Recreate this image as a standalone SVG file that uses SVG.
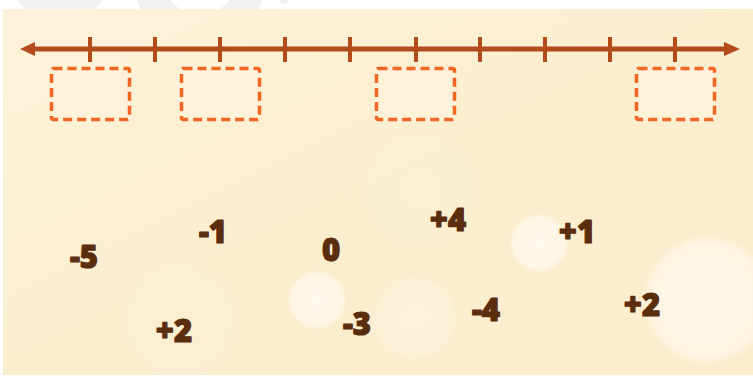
<svg xmlns="http://www.w3.org/2000/svg" width="753" height="378" viewBox="0 0 753 378">
<defs>
<linearGradient id="bg" x1="0" y1="0" x2="1" y2="1">
<stop offset="0" stop-color="#fdf2d9"/>
<stop offset="0.5" stop-color="#fbeecf"/>
<stop offset="1" stop-color="#fbedcd"/>
</linearGradient>
<radialGradient id="glow" cx="0.5" cy="0.5" r="0.5">
<stop offset="0" stop-color="#fffaf0" stop-opacity="0.9"/>
<stop offset="0.85" stop-color="#fff8ea" stop-opacity="0.8"/>
<stop offset="1" stop-color="#fff8ea" stop-opacity="0"/>
</radialGradient>
<clipPath id="top"><rect x="0" y="0" width="753" height="9"/></clipPath>
<style>
.num{font-family:"Open Sans","Liberation Sans",sans-serif;font-weight:800;font-size:31px;fill:#5a2d0d;stroke:#5a2d0d;stroke-width:1.2;stroke-linejoin:round;text-anchor:middle}
.box{fill:#fdf1d9;stroke:#f06623;stroke-width:3.5;stroke-dasharray:9 5}
.tick{stroke:#b34b1b;stroke-width:4}
</style>
</defs>
<rect width="753" height="378" fill="#ffffff"/>
<g clip-path="url(#top)" fill="#f0f0f0">
<circle cx="60" cy="-30" r="52"/>
<path d="M135 -10 A65 65 0 0 0 264 -10 L235 -10 A37 37 0 0 1 165 -10 Z"/>
<circle cx="284" cy="0" r="4"/>
</g>
<rect x="3" y="9" width="750" height="366" fill="url(#bg)"/>
<g id="bokeh">
<circle cx="317" cy="300" r="30" fill="url(#glow)"/>
<circle cx="539" cy="243" r="30" fill="url(#glow)"/>
<circle cx="707" cy="300" r="66" fill="url(#glow)" opacity="0.9"/>
<circle cx="415" cy="318" r="44" fill="url(#glow)" opacity="0.35"/>
<circle cx="420" cy="190" r="60" fill="url(#glow)" opacity="0.12"/>
<circle cx="180" cy="320" r="60" fill="url(#glow)" opacity="0.15"/>
</g>
<g id="numberline">
<line x1="32" y1="49" x2="728" y2="49" stroke="#b34b1b" stroke-width="5"/>
<polygon points="20,49 35,42 35,56" fill="#b34b1b"/>
<polygon points="740,49 724,42 724,56" fill="#b34b1b"/>
<line class="tick" x1="90" y1="37" x2="90" y2="62"/>
<line class="tick" x1="155" y1="37" x2="155" y2="62"/>
<line class="tick" x1="220" y1="37" x2="220" y2="62"/>
<line class="tick" x1="285" y1="37" x2="285" y2="62"/>
<line class="tick" x1="350" y1="37" x2="350" y2="62"/>
<line class="tick" x1="416" y1="37" x2="416" y2="62"/>
<line class="tick" x1="480" y1="37" x2="480" y2="62"/>
<line class="tick" x1="545" y1="37" x2="545" y2="62"/>
<line class="tick" x1="610" y1="37" x2="610" y2="62"/>
<line class="tick" x1="675" y1="37" x2="675" y2="62"/>
</g>
<g id="box1"><rect class="box" x="51.5" y="68.5" width="78" height="51" rx="2"/></g>
<g id="box2"><rect class="box" x="181.5" y="68.5" width="78" height="51" rx="2"/></g>
<g id="box3"><rect class="box" x="376.5" y="68.5" width="78" height="51" rx="2"/></g>
<g id="box4"><rect class="box" x="636.5" y="68.5" width="78" height="51" rx="2"/></g>
<g id="numbers">
<text class="num" x="84" y="268">-5</text>
<text class="num" x="213" y="243">-1</text>
<text class="num" x="331" y="261">0</text>
<text class="num" x="174" y="342">+2</text>
<text class="num" x="357" y="335">-3</text>
<text class="num" x="448" y="231">+4</text>
<text class="num" x="577" y="243">+1</text>
<text class="num" x="486" y="321">-4</text>
<text class="num" x="642" y="316">+2</text>
</g>
</svg>
